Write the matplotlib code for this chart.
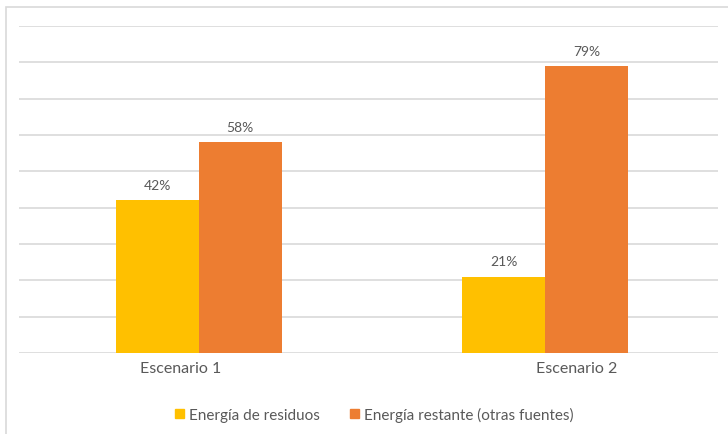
import matplotlib.pyplot as plt
from matplotlib.patches import Patch, Rectangle

escenarios = ['Escenario 1', 'Escenario 2']
residuos = [42, 21]
restante = [58, 79]
series_names = ['Energía de residuos', 'Energía restante (otras fuentes)']

amarillo = '#FFC000'
naranja = '#ED7D31'
gris_texto = '#595959'
gris_linea = '#D9D9D9'

plt.rcParams['font.family'] = ['Lato', 'DejaVu Sans']

fig = plt.figure(figsize=(7.28, 4.35), dpi=100)
ax = fig.add_axes([19 / 728, 81 / 435, 699 / 728, 327 / 435])

# light frame around the chart area
fig.patches.append(Rectangle((6 / 728, -0.1), 1.2, 1.1 - 8 / 435,
                             transform=fig.transFigure, fill=False,
                             edgecolor=gris_linea, lw=1.2, clip_on=False))

w = 0.239
x = range(len(escenarios))
b1 = ax.bar([i - w / 2 for i in x], residuos, w, color=amarillo, zorder=2)
b2 = ax.bar([i + w / 2 for i in x], restante, w, color=naranja, zorder=2)

for bars, vals in ((b1, residuos), (b2, restante)):
    for bar, v in zip(bars, vals):
        ax.annotate(f'{v}%', (bar.get_x() + bar.get_width() / 2, v),
                    xytext=(0, 11), textcoords='offset points',
                    ha='center', va='center', fontsize=10, color=gris_texto)

ax.set_xlim(-0.52, 1.50)
ax.set_ylim(0, 90)
for y in range(0, 100, 10):
    ax.axhline(y, color=gris_linea, lw=1.2, zorder=1)

ax.set_yticks([])
ax.set_xticks([-0.054, 1.093])
ax.set_xticklabels(escenarios, fontsize=11.5, color=gris_texto)
ax.tick_params(axis='x', length=0, pad=6)
for s in ax.spines.values():
    s.set_visible(False)

handles = [Patch(color=amarillo), Patch(color=naranja)]
fig.legend(handles, series_names, loc='center', bbox_to_anchor=(0.514, 0.045),
           ncol=2, frameon=False, fontsize=11, labelcolor=gris_texto,
           handlelength=0.6, handleheight=0.6, handletextpad=0.3,
           columnspacing=2.0)

fig.savefig('out.png', dpi=100, facecolor='white')
